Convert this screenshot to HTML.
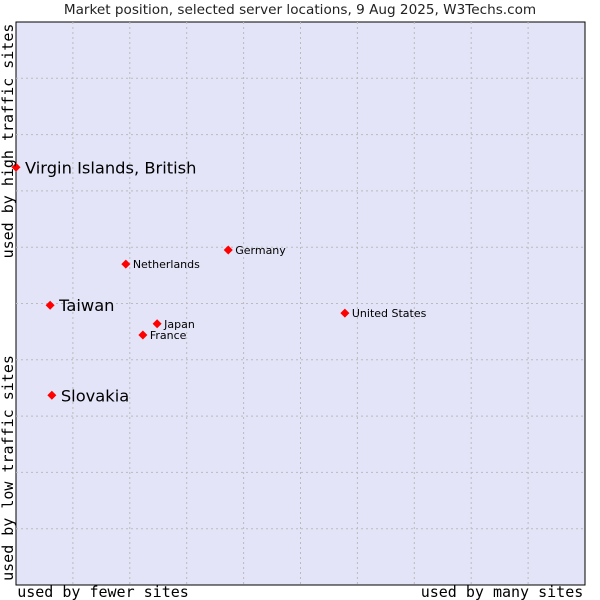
<!DOCTYPE html>
<html><head><meta charset="utf-8"><style>
body{margin:0;background:#fff;}
svg{display:block;font-family:"DejaVu Sans","Liberation Sans",sans-serif;}
</style></head><body>
<svg id="chart" width="600" height="600">
<text x="300" y="14" text-anchor="middle" font-size="13.6" fill="#222">Market position, selected server locations, 9 Aug 2025, W3Techs.com</text>
<rect x="16" y="22" width="569" height="563" fill="#e3e4f8" stroke="#000" stroke-width="1"/>
<g id="grid"></g>
<g id="points"></g>
<text x="103" y="597" text-anchor="middle" font-family="DejaVu Sans Mono,monospace" font-size="15">used by fewer sites</text>
<text x="502" y="597" text-anchor="middle" font-family="DejaVu Sans Mono,monospace" font-size="15">used by many sites</text>
<text transform="translate(13,141) rotate(-90)" text-anchor="middle" font-family="DejaVu Sans Mono,monospace" font-size="15">used by high traffic sites</text>
<text transform="translate(13,468) rotate(-90)" text-anchor="middle" font-family="DejaVu Sans Mono,monospace" font-size="15">used by low traffic sites</text>
</svg>
<script>
const names=["Virgin Islands, British","Taiwan","Slovakia","Netherlands","Germany","Japan","France","United States"];
const xVals=[0,6.0,6.3,19.3,37.3,24.8,22.3,57.8];
const yVals=[74.2,49.7,33.7,57.0,59.5,46.4,44.4,48.3];
const big=[true,true,true,false,false,false,false,false];
const X0=16,X1=585,Y0=585,Y1=22;
const sx=v=>X0+(X1-X0)*v/100, sy=v=>Y0-(Y0-Y1)*v/100;
const NS="http://www.w3.org/2000/svg";
const grid=document.getElementById('grid');
for(let i=1;i<10;i++){
  const a=document.createElementNS(NS,'line');
  
  
  a.setAttribute('x1',sx(i*10));a.setAttribute('x2',sx(i*10));a.setAttribute('y1',Y1);a.setAttribute('y2',Y0);
  a.setAttribute('stroke','#bbbbbb');a.setAttribute('stroke-dasharray','2,3');grid.appendChild(a);
  const b=document.createElementNS(NS,'line');
  
  
  b.setAttribute('y1',sy(i*10));b.setAttribute('y2',sy(i*10));b.setAttribute('x1',X0);b.setAttribute('x2',X1);
  b.setAttribute('stroke','#bbbbbb');b.setAttribute('stroke-dasharray','2,3');grid.appendChild(b);
}
const pts=document.getElementById('points');
names.forEach((n,i)=>{
  const x=sx(xVals[i]),y=sy(yVals[i]);
  const p=document.createElementNS(NS,'polygon');
  
  
  p.setAttribute('points',`${x},${y-4.5} ${x+4.5},${y} ${x},${y+4.5} ${x-4.5},${y}`);
  p.setAttribute('fill','#f00');pts.appendChild(p);
  const t=document.createElementNS(NS,'text');
  
  
  t.setAttribute('x',x+(big[i]?9:7));t.setAttribute('y',y+(big[i]?6:4));
  t.setAttribute('font-size',big[i]?16.3:11);t.setAttribute('fill','#000');
  t.textContent=n;pts.appendChild(t);
});
</script>
</body></html>
